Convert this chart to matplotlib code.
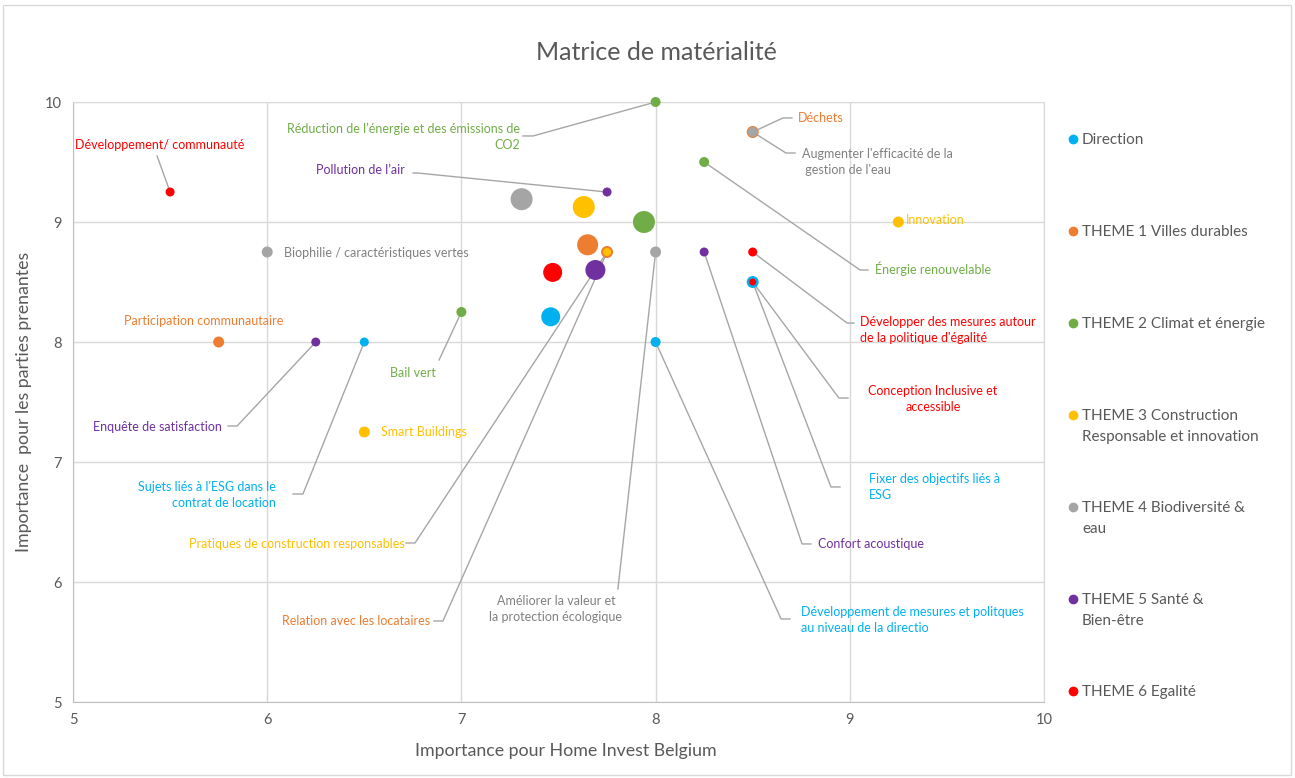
import matplotlib
matplotlib.use('Agg')
import matplotlib.pyplot as plt
from matplotlib.patches import Rectangle
from matplotlib.lines import Line2D

plt.rcParams['font.family'] = ['Lato', 'DejaVu Sans']

# theme colours
theme_names = ['Direction', 'THEME 1 Villes durables', 'THEME 2 Climat et énergie',
               'THEME 3 Construction\nResponsable et innovation', 'THEME 4 Biodiversité &\neau',
               'THEME 5 Santé &\nBien-être', 'THEME 6 Egalité']
theme_colors = ['#00B0F0', '#ED7D31', '#70AD47', '#FFC000', '#A5A5A5', '#7030A0', '#FF0000']
text_colors = ['#00B0F0', '#ED7D31', '#70AD47', '#FFC000', '#808080', '#7030A0', '#FF0000']

# topics
labels = [
    'Développement/ communauté',
    'Réduction de l’énergie et des émissions de\nCO2',
    'Déchets',
    "Augmenter l'efficacité de la\n gestion de l'eau",
    'Énergie renouvelable',
    'Pollution de l’air',
    'Innovation',
    'Biophilie / caractéristiques vertes',
    'Relation avec les locataires',
    'Pratiques de construction responsables',
    'Améliorer la valeur et\nla protection écologique',
    'Confort acoustique',
    "Développer des mesures autour\nde la politique d'égalité",
    'Fixer des objectifs liés à\nESG',
    'Conception Inclusive et\naccessible',
    'Bail vert',
    'Développement de mesures et politques\nau niveau de la directio',
    'Participation communautaire',
    'Enquête de satisfaction',
    "Sujets liés à l'ESG dans le\ncontrat de location",
    'Smart Buildings',
]
x_company = [5.5, 8.0, 8.5, 8.5, 8.25, 7.75, 9.25, 6.0, 7.75, 7.75, 8.0, 8.25, 8.5, 8.5, 8.5,
             7.0, 8.0, 5.75, 6.25, 6.5, 6.5]
y_stake = [9.25, 10.0, 9.75, 9.75, 9.5, 9.25, 9.0, 8.75, 8.75, 8.75, 8.75, 8.75, 8.75, 8.5, 8.5,
           8.25, 8.0, 8.0, 8.0, 8.0, 7.25]
theme = [6, 2, 1, 4, 2, 5, 3, 4, 1, 3, 4, 5, 6, 0, 6, 2, 0, 1, 5, 0, 3]
weight = [9, 10, 12, 10, 10, 9, 11, 11, 12, 8, 11, 9, 9, 12, 7, 10, 10, 11, 9, 9, 11]

# theme averages (large bubbles)
avg_theme = [4, 3, 2, 1, 6, 5, 0]
avg_x = [7.31, 7.63, 7.94, 7.65, 7.47, 7.69, 7.46]
avg_y = [9.19, 9.125, 9.0, 8.81, 8.58, 8.6, 8.21]
avg_weight = [22, 22, 22, 21, 19, 20, 19]

# label layout: (text x, text y, ha, leader elbow x, elbow y, tail x)
label_pos = [
    (5.448, 9.642, 'center', 5.433, 9.55, None),
    (7.30, 9.708, 'right', 7.369, 9.717, 7.317),
    (8.733, 9.867, 'left', 8.656, 9.867, 8.702),
    (8.754, 9.50, 'left', 8.671, 9.575, 8.718),
    (9.13, 8.608, 'left', 9.053, 8.60, 9.094),
    (6.71, 9.433, 'right', 6.776, 9.408, 6.751),
    (9.289, 9.017, 'left', None, None, None),
    (6.087, 8.742, 'left', None, None, None),
    (6.838, 5.675, 'right', 6.905, 5.675, 6.859),
    (6.71, 6.317, 'right', 6.761, 6.325, 6.715),
    (7.487, 5.775, 'center', 7.806, 5.942, None),
    (8.836, 6.317, 'left', 8.754, 6.317, 8.80),
    (9.053, 8.10, 'left', 8.986, 8.158, 9.022),
    (9.099, 6.79, 'left', 8.903, 6.792, 8.95),
    (9.428, 7.525, 'center', 8.944, 7.533, 8.991),
    (6.751, 7.742, 'center', 6.885, 7.85, None),
    (8.749, 5.683, 'left', 8.646, 5.692, 8.692),
    (5.675, 8.175, 'center', None, None, None),
    (5.767, 7.292, 'right', 5.845, 7.30, 5.798),
    (6.045, 6.725, 'right', 6.184, 6.733, 6.133),
    (6.586, 7.25, 'left', None, None, None),
]

px = 0.72  # points per pixel at dpi 100
fig = plt.figure(figsize=(12.95, 7.78), dpi=100)
ax = fig.add_axes([73 / 1295, 1 - 702 / 778, (1044 - 73) / 1295, 600 / 778])

ax.set_xlim(5, 10)
ax.set_ylim(5, 10)
ax.set_xticks([5, 6, 7, 8, 9, 10])
ax.set_yticks([5, 6, 7, 8, 9, 10])
ax.grid(True, color='#D9D9D9', linewidth=1.0)
ax.set_axisbelow(True)
for s in ax.spines.values():
    s.set_color('#D9D9D9')
ax.spines['left'].set_color('#BFBFBF')
ax.spines['bottom'].set_color('#BFBFBF')
ax.tick_params(length=0, labelsize=10.5, colors='#595959', pad=8)

# leader lines
for i, (tx, ty, ha, ex, ey, hx) in enumerate(label_pos):
    if ex is None:
        continue
    xs = [x_company[i], ex]
    ys = [y_stake[i], ey]
    if hx is not None:
        xs.append(hx)
        ys.append(ey)
    ax.plot(xs, ys, color='#A6A6A6', linewidth=1.0, zorder=2, clip_on=False)

# theme averages
for t, xv, yv, w in zip(avg_theme, avg_x, avg_y, avg_weight):
    ax.scatter(xv, yv, s=(w * px) ** 2, color=theme_colors[t], edgecolors='none', zorder=3)

# topic points, biggest first so small ones stay on top
order = sorted(range(len(labels)), key=lambda k: -weight[k])
for i in order:
    ax.scatter(x_company[i], y_stake[i], s=(weight[i] * px) ** 2, color=theme_colors[theme[i]],
               edgecolors='none', zorder=4, clip_on=False)

for i, (tx, ty, ha, ex, ey, hx) in enumerate(label_pos):
    ax.text(tx, ty, labels[i], ha=ha, va='center', multialignment=ha, fontsize=9,
            color=text_colors[theme[i]], linespacing=1.45, zorder=5)

ax.set_xlabel('Importance pour Home Invest Belgium', fontsize=12.8, color='#595959')
ax.set_ylabel('Importance  pour les parties prenantes', fontsize=12.8, color='#595959', labelpad=9)
ax.xaxis.set_label_coords((566 - 73) / 971, -(751 - 702) / 600)
ax.xaxis.label.set_va('center')
fig.text(656 / 1295, 1 - 52 / 778, 'Matrice de matérialité', ha='center', va='center',
         fontsize=18, color='#595959')

# legend
for k, (name, c) in enumerate(zip(theme_names, theme_colors)):
    y_first = 139 + 92 * k
    nl = name.count('\n')
    fig.add_artist(Line2D([1073 / 1295], [1 - y_first / 778], marker='o', markersize=6,
                          color=c, linestyle='none', transform=fig.transFigure))
    fig.text(1082 / 1295, 1 - (y_first + 1 + nl * 10.5) / 778, name, ha='left', va='center',
             fontsize=11, color='#595959', linespacing=1.6)

# chart border
fig.add_artist(Rectangle((3 / 1295, 3 / 778), 1288 / 1295, 770 / 778, transform=fig.transFigure,
                         fill=False, edgecolor='#D9D9D9', linewidth=1.0))

fig.savefig('out.png', dpi=100)
